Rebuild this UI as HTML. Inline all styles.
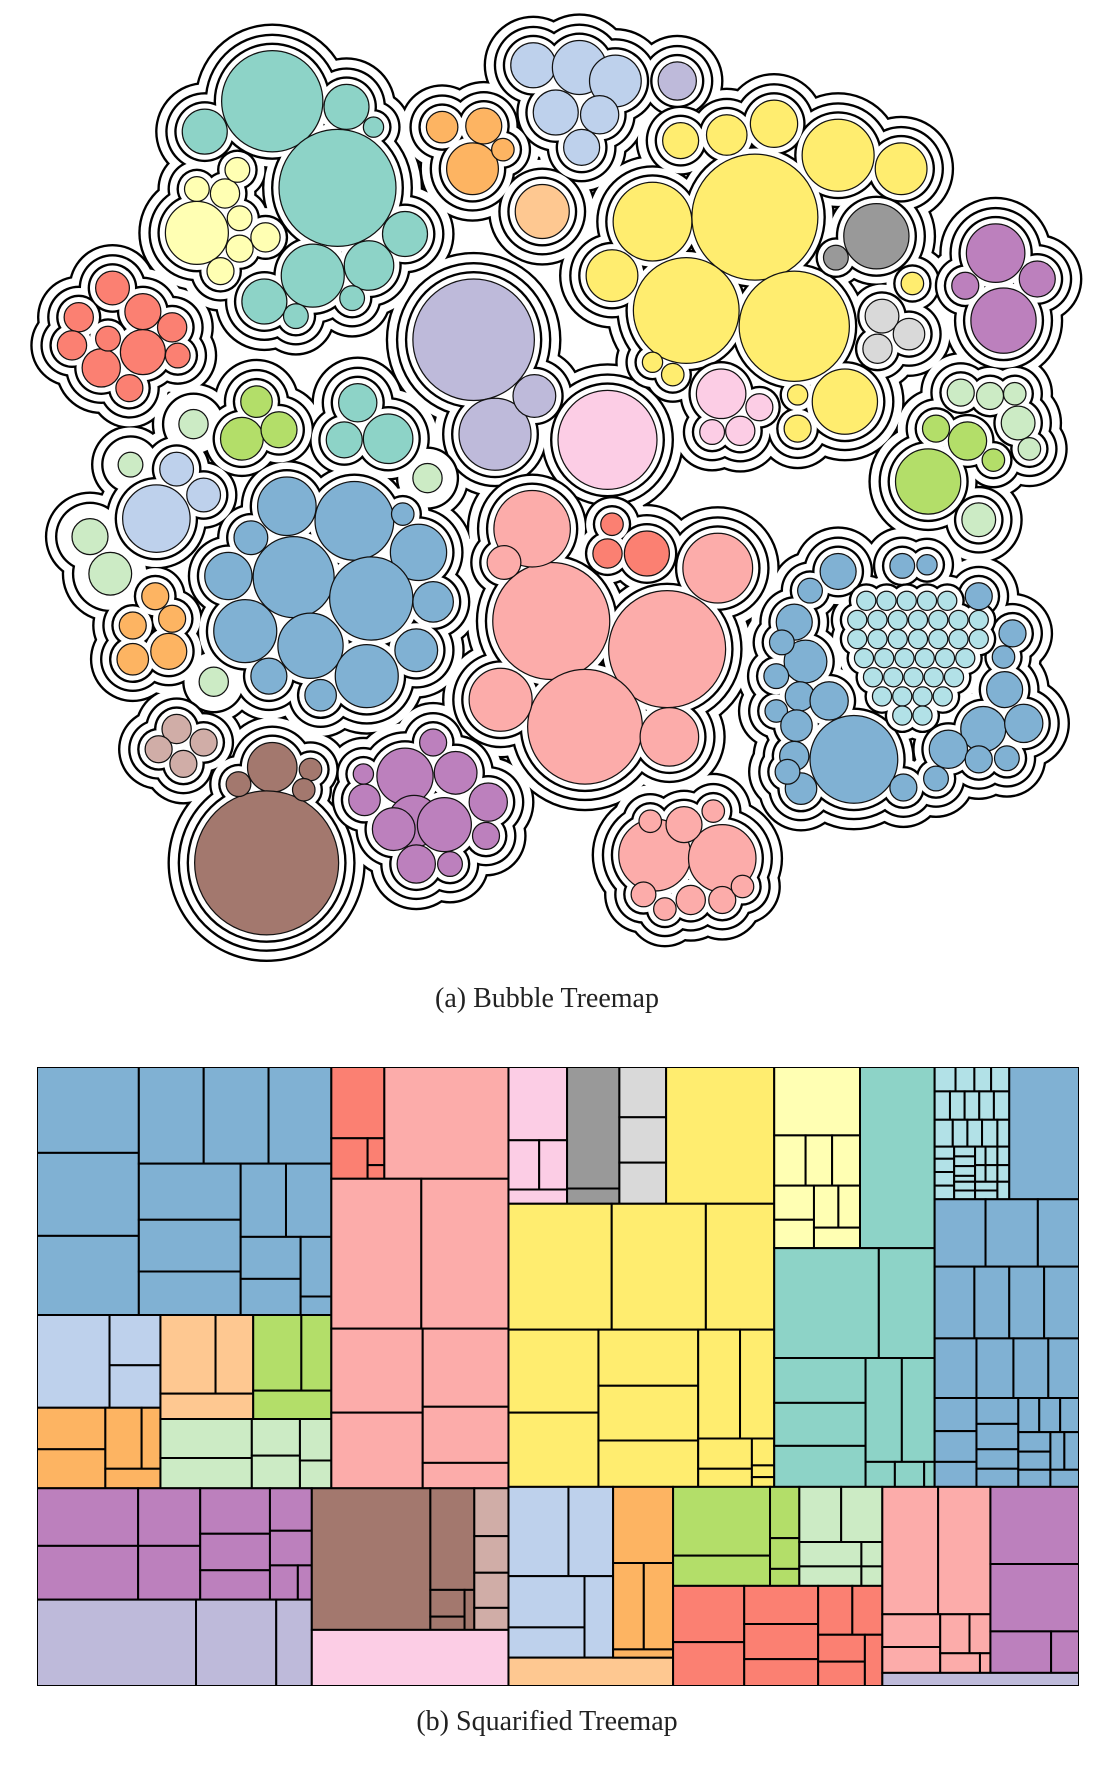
<!DOCTYPE html>
<html><head><meta charset="utf-8"><style>
html,body{margin:0;padding:0;background:#fff;}
body{width:1094px;height:1765px;position:relative;overflow:hidden;font-family:"Liberation Serif",serif;}
.cap{position:absolute;width:1094px;left:0;text-align:center;font-size:28px;color:#222;}
svg{position:absolute;left:0;top:0;}
</style></head><body>
<svg id="bubble" width="1094" height="980" viewBox="0 0 972.44 871.1"></svg>
<div class="cap" style="top:983px;">(a) Bubble Treemap</div>
<svg id="sq" style="left:37px;top:1067px;" width="1042" height="619" viewBox="53 137 1494 1268" preserveAspectRatio="none"></svg>
<div class="cap" style="top:1706px;">(b) Squarified Treemap</div>
<script>
const colors={B:'#80b1d3',LB:'#bed1ec',R:'#fb8072',PK:'#fcacaa',P:'#fccde5',G:'#999999',LGY:'#d9d9d9',Y:'#ffed6f',LY:'#ffffb3',T:'#8dd3c7',C:'#b2e1e7',O:'#fdb462',PE:'#fec891',GR:'#b3de69',LG:'#ccebc5',PU:'#bc80bd',LV:'#bebada',BR:'#a3786e',LBR:'#d0ada7'};
// bubble data: cx, cy, r, color, leaf group
const bubbles=[
[242,90,45,'T','T'],[300,167,52,'T','T'],[182,117,20,'T','T'],[308,95,20,'T','T'],[332,113,9,'T','T'],[278,245,28,'T','T'],[328,236,22,'T','T'],[360,208,20,'T','T'],[235,268,20,'T','T'],[313,265,11,'T','T'],[263,281,11,'T','T'],
[175,207,28,'LY','LY'],[200,172,13,'LY','LY'],[211,151,11,'LY','LY'],[175,168,11,'LY','LY'],[213,194,11,'LY','LY'],[236,211,13,'LY','LY'],[213,221,12,'LY','LY'],[196,241,12,'LY','LY'],
[100,256,15,'R','RL'],[127,277,16,'R','RL'],[153,291,13,'R','RL'],[70,282,13,'R','RL'],[64,307,13,'R','RL'],[127,313,20,'R','RL'],[90,327,17,'R','RL'],[115,345,12,'R','RL'],[158,316,11,'R','RL'],[96,301,11,'R','RL'],
[421,302,54,'LV','LV'],[440,386,32,'LV','LV'],[475,352,19,'LV','LV'],
[540,391,44,'P','PA'],
[474,58,20,'LB','LBT'],[515,60,24,'LB','LBT'],[547,72,23,'LB','LBT'],[494,100,20,'LB','LBT'],[533,102,17,'LB','LBT'],[517,131,16,'LB','LBT'],
[602,72,17,'LV','LVS'],
[393,113,14,'O','OT'],[430,112,16,'O','OT'],[420,150,23,'O','OT'],[447,133,10,'O','OT'],
[482,188,24,'PE','PE'],
[671,193,56,'Y','Y'],[610,276,47,'Y','Y'],[706,290,49,'Y','Y'],[580,197,35,'Y','Y'],[544,245,23,'Y','Y'],[646,120,18,'Y','Y'],[605,125,16,'Y','Y'],[688,110,21,'Y','Y'],[745,138,32,'Y','Y'],[801,150,23,'Y','Y'],[751,357,29,'Y','Y'],[580,322,9,'Y','Y'],[598,333,10,'Y','Y'],[709,351,9,'Y','Y'],[709,381,12,'Y','Y'],[811,252,10,'Y','Y'],
[779,210,29,'G','GG'],[743,229,11,'G','GG'],
[784,281,15,'LGY','LGR'],[808,297,14,'LGY','LGR'],[780,310,13,'LGY','LGR'],
[641,350,22,'P','PS'],[675,362,12,'P','PS'],[633,384,11,'P','PS'],[658,383,13,'P','PS'],
[885,225,26,'PU','PR'],[922,248,16,'PU','PR'],[858,254,12,'PU','PR'],[892,285,29,'PU','PR'],
[854,349,12,'LG','LGRt'],[880,352,12,'LG','LGRt'],[902,350,10,'LG','LGRt'],[905,376,15,'LG','LGRt'],[915,399,10,'LG','LGRt'],[870,462,15,'LG','LGRt'],
[825,428,29,'GR','GRR'],[860,392,17,'GR','GRR'],[832,381,12,'GR','GRR'],[883,409,10,'GR','GRR'],
[228,357,14,'GR','GL'],[215,390,19,'GR','GL'],[248,382,16,'GR','GL'],
[172,377,13,'LG',''],[116,413,11,'LG',''],[80,477,16,'LG',''],[98,510,19,'LG',''],[190,606,13,'LG',''],[380,425,13,'LG',''],
[157,417,15,'LB','LBL'],[139,461,30,'LB','LBL'],[181,440,15,'LB','LBL'],
[138,530,12,'O','OL'],[153,550,12,'O','OL'],[118,556,12,'O','OL'],[150,579,16,'O','OL'],[118,586,14,'O','OL'],
[318,358,17,'T','TS'],[345,390,22,'T','TS'],[306,391,16,'T','TS'],
[255,450,26,'B','BB'],[315,463,35,'B','BB'],[372,491,25,'B','BB'],[358,457,10,'B','BB'],[223,478,15,'B','BB'],[261,513,36,'B','BB'],[330,532,37,'B','BB'],[203,512,21,'B','BB'],[385,535,18,'B','BB'],[218,561,28,'B','BB'],[276,574,29,'B','BB'],[370,578,19,'B','BB'],[326,601,28,'B','BB'],[239,601,16,'B','BB'],[285,618,14,'B','BB'],
[490,552,52,'PK','PB'],[593,577,52,'PK','PB'],[520,646,51,'PK','PB'],[473,470,34,'PK','PB'],[638,505,31,'PK','PB'],[448,500,15,'PK','PB'],[445,622,28,'PK','PB'],[595,655,26,'PK','PB'],
[544,466,10,'R','RS'],[575,492,20,'R','RS'],[540,492,13,'R','RS'],
[759,675,39,'B','BR'],[706,553,16,'B','BR'],[716,588,19,'B','BR'],[745,508,16,'B','BR'],[720,525,11,'B','BR'],[695,571,11,'B','BR'],[690,601,11,'B','BR'],[711,619,13,'B','BR'],[737,623,17,'B','BR'],[690,632,10,'B','BR'],[708,645,14,'B','BR'],[706,672,13,'B','BR'],[712,701,14,'B','BR'],[802,503,11,'B','BR'],[824,502,9,'B','BR'],[870,530,12,'B','BR'],[900,563,12,'B','BR'],[892,584,10,'B','BR'],[893,613,16,'B','BR'],[874,648,20,'B','BR'],[910,643,17,'B','BR'],[843,666,17,'B','BR'],[870,675,12,'B','BR'],[895,674,11,'B','BR'],[832,692,11,'B','BR'],[803,700,12,'B','BR'],[700,686,11,'B','BR'],
[770,534,8.5,'C','C'],[788,534,8.5,'C','C'],[806,534,8.5,'C','C'],[824,534,8.5,'C','C'],[842,534,8.5,'C','C'],
[762,551,8.5,'C','C'],[780,551,8.5,'C','C'],[798,551,8.5,'C','C'],[816,551,8.5,'C','C'],[834,551,8.5,'C','C'],[852,551,8.5,'C','C'],[870,551,8.5,'C','C'],
[762,568,8.5,'C','C'],[780,568,8.5,'C','C'],[798,568,8.5,'C','C'],[816,568,8.5,'C','C'],[834,568,8.5,'C','C'],[852,568,8.5,'C','C'],[870,568,8.5,'C','C'],
[768,585,8.5,'C','C'],[786,585,8.5,'C','C'],[804,585,8.5,'C','C'],[822,585,8.5,'C','C'],[840,585,8.5,'C','C'],[858,585,8.5,'C','C'],
[776,602,8.5,'C','C'],[794,602,8.5,'C','C'],[812,602,8.5,'C','C'],[830,602,8.5,'C','C'],[848,602,8.5,'C','C'],
[784,619,8.5,'C','C'],[802,619,8.5,'C','C'],[820,619,8.5,'C','C'],[838,619,8.5,'C','C'],[802,636,8.5,'C','C'],[820,636,8.5,'C','C'],
[157,648,13,'LBR','LBR'],[141,666,12,'LBR','LBR'],[181,660,12,'LBR','LBR'],[163,679,12,'LBR','LBR'],
[242,682,22,'BR','BRN'],[237,767,64,'BR','BRN'],[212,697,11,'BR','BRN'],[276,684,10,'BR','BRN'],[270,702,10,'BR','BRN'],
[360,690,25,'PU','PUB'],[405,687,19,'PU','PUB'],[385,660,12,'PU','PUB'],[323,688,9,'PU','PUB'],[324,711,14,'PU','PUB'],[368,730,23,'PU','PUB'],[395,733,24,'PU','PUB'],[434,713,17,'PU','PUB'],[350,737,19,'PU','PUB'],[432,743,12,'PU','PUB'],[370,768,17,'PU','PUB'],[400,768,11,'PU','PUB'],
[582,760,32,'PK','PKB'],[642,763,30,'PK','PKB'],[608,733,16,'PK','PKB'],[634,721,10,'PK','PKB'],[578,730,10,'PK','PKB'],[572,795,11,'PK','PKB'],[614,800,13,'PK','PKB'],[591,808,10,'PK','PKB'],[642,800,12,'PK','PKB'],[660,788,10,'PK','PKB']
];
const midGroups={T:'M1',LY:'M1',LBT:'M2',OT:'M2',PE:'M2',LVS:'M2',Y:'M3',GG:'M3',LGR:'M3',PS:'M3',PR:'M4',GRR:'M4',LGRt:'M4',GL:'M5',LBL:'M5',OL:'M5',TS:'M5',BB:'M5','':'M5',PB:'M6',RS:'M6',BR:'M7',C:'M7',LBR:'M8',BRN:'M8',PUB:'M9',PKB:'M10',RL:'M12',LV:'M11',PA:'M11'};
const NS='http://www.w3.org/2000/svg';
const bsvg=document.getElementById('bubble');
function ring(list,off,name){
  const g=document.createElementNS(NS,'g');
  
  
  [[2.1,'#000'],[0,'#fff']].forEach(function(p){
    list.forEach(function(b){
      const c=document.createElementNS(NS,'circle');
      c.setAttribute('cx',b[0]);c.setAttribute('cy',b[1]);c.setAttribute('r',b[2]+off+p[0]);c.setAttribute('fill',p[1]);
      g.appendChild(c);
    });
  });
  bsvg.appendChild(g);
}
ring(bubbles,22,'root-contour');
const mids={};bubbles.forEach(b=>{const m=midGroups[b[4]];(mids[m]=mids[m]||[]).push(b);});
Object.keys(mids).forEach(m=>ring(mids[m],13,'group-contour'));
const leaves={};bubbles.forEach(b=>{if(b[4]){(leaves[b[4]]=leaves[b[4]]||[]).push(b);}});
Object.keys(leaves).forEach(l=>ring(leaves[l],5,'leaf-contour'));
bubbles.forEach(function(b){
  const c=document.createElementNS(NS,'circle');
  
  
  c.setAttribute('cx',b[0]);c.setAttribute('cy',b[1]);c.setAttribute('r',b[2]);
  c.setAttribute('fill',colors[b[3]]);c.setAttribute('stroke','#111');c.setAttribute('stroke-width','1.1');
  bsvg.appendChild(c);
});
// squarified cells: x0, y0, x1, y1, color
const cells=[
[53,137,199,313,'B'],[53,313,199,483,'B'],[53,483,199,645,'B'],[199,137,292,335,'B'],[292,137,385,335,'B'],[385,137,475,335,'B'],[199,335,345,450,'B'],[199,450,345,556,'B'],[199,556,345,645,'B'],[345,335,410,485,'B'],[410,335,475,485,'B'],[345,485,431,571,'B'],[345,571,431,645,'B'],[431,485,475,607,'B'],[431,607,475,645,'B'],
[53,645,157,835,'LB'],[157,645,230,748,'LB'],[157,748,230,835,'LB'],
[53,835,151,920,'O'],[53,920,151,1000,'O'],[151,835,203,960,'O'],[203,835,230,960,'O'],[151,960,230,1000,'O'],
[230,645,309,806,'PE'],[309,645,363,806,'PE'],[230,806,363,858,'PE'],
[363,645,432,800,'GR'],[432,645,475,800,'GR'],[363,800,475,858,'GR'],
[230,858,361,938,'LG'],[230,938,361,1000,'LG'],[361,858,430,933,'LG'],[361,933,430,1000,'LG'],[430,858,475,943,'LG'],[430,943,475,1000,'LG'],
[475,137,551,283,'R'],[475,283,527,366,'R'],[527,283,551,338,'R'],[527,338,551,366,'R'],[551,137,729,366,'PK'],
[475,366,604,673,'PK'],[604,366,729,673,'PK'],[475,673,606,845,'PK'],[606,673,729,833,'PK'],[475,845,606,1000,'PK'],[606,833,729,948,'PK'],[606,948,729,1000,'PK'],
[729,137,813,287,'P'],[729,287,773,388,'P'],[773,287,813,388,'P'],[729,388,813,417,'P'],
[813,137,888,386,'G'],[813,386,888,417,'G'],
[888,137,955,240,'LGY'],[888,240,955,333,'LGY'],[888,333,955,417,'LGY'],
[955,137,1110,417,'Y'],[729,417,877,675,'Y'],[877,417,1012,675,'Y'],[1012,417,1110,675,'Y'],[729,675,858,845,'Y'],[729,845,858,997,'Y'],[858,675,1001,790,'Y'],[858,790,1001,902,'Y'],[858,902,1001,997,'Y'],[1001,675,1061,898,'Y'],[1061,675,1110,898,'Y'],[1001,898,1078,960,'Y'],[1001,960,1078,997,'Y'],[1078,898,1110,953,'Y'],[1078,953,1110,977,'Y'],[1078,977,1110,997,'Y'],
[1110,137,1233,277,'LY'],[1110,277,1155,380,'LY'],[1155,277,1193,380,'LY'],[1193,277,1233,380,'LY'],[1110,380,1167,450,'LY'],[1110,450,1167,508,'LY'],[1167,380,1202,466,'LY'],[1202,380,1233,466,'LY'],[1167,466,1233,508,'LY'],
[1233,137,1340,508,'T'],[1110,508,1260,733,'T'],[1260,508,1340,733,'T'],[1110,733,1241,825,'T'],[1110,825,1241,913,'T'],[1110,913,1241,997,'T'],[1241,733,1293,946,'T'],[1293,733,1340,946,'T'],[1241,946,1283,997,'T'],[1283,946,1325,997,'T'],[1325,946,1340,997,'T'],
[1340,137,1370,187,'C'],[1370,137,1397,187,'C'],[1397,137,1421,187,'C'],[1421,137,1447,187,'C'],
[1340,187,1362,245,'C'],[1362,187,1383,245,'C'],[1383,187,1404,245,'C'],[1404,187,1425,245,'C'],[1425,187,1447,245,'C'],
[1340,245,1366,300,'C'],[1366,245,1387,300,'C'],[1387,245,1408,300,'C'],[1408,245,1430,300,'C'],[1430,245,1447,300,'C'],
[1340,300,1368,325,'C'],[1340,325,1368,352,'C'],[1340,352,1368,380,'C'],[1340,380,1368,408,'C'],
[1368,300,1398,320,'C'],[1368,320,1398,340,'C'],[1368,340,1398,360,'C'],[1368,360,1398,372,'C'],[1368,372,1398,390,'C'],[1368,390,1398,408,'C'],
[1398,300,1413,338,'C'],[1413,300,1430,338,'C'],[1430,300,1447,338,'C'],[1398,338,1413,372,'C'],[1413,338,1430,372,'C'],[1430,338,1447,372,'C'],[1398,372,1430,390,'C'],[1398,390,1430,408,'C'],[1430,372,1447,408,'C'],
[1447,137,1547,408,'B'],[1340,408,1413,546,'B'],[1413,408,1488,546,'B'],[1488,408,1547,546,'B'],
[1340,546,1397,693,'B'],[1397,546,1447,693,'B'],[1447,546,1497,693,'B'],[1497,546,1547,693,'B'],
[1340,693,1400,815,'B'],[1400,693,1453,815,'B'],[1453,693,1503,815,'B'],[1503,693,1547,815,'B'],
[1340,815,1400,883,'B'],[1340,883,1400,946,'B'],[1340,946,1400,997,'B'],[1400,815,1460,868,'B'],[1400,868,1460,920,'B'],[1400,920,1460,960,'B'],[1400,960,1460,997,'B'],[1460,815,1490,885,'B'],[1490,815,1520,885,'B'],[1520,815,1547,885,'B'],[1460,885,1506,925,'B'],[1460,925,1506,962,'B'],[1506,885,1526,962,'B'],[1526,885,1547,962,'B'],[1460,962,1506,997,'B'],[1506,962,1547,997,'B'],
[53,1000,198,1118,'PU'],[198,1000,287,1118,'PU'],[53,1118,198,1228,'PU'],[198,1118,287,1228,'PU'],[287,1000,387,1093,'PU'],[387,1000,447,1087,'PU'],[287,1093,387,1168,'PU'],[387,1087,447,1158,'PU'],[287,1168,387,1228,'PU'],[387,1158,427,1228,'PU'],[427,1158,447,1228,'PU'],
[53,1228,281,1405,'LV'],[281,1228,396,1405,'LV'],[396,1228,447,1405,'LV'],
[447,1000,617,1290,'BR'],[617,1000,680,1208,'BR'],[617,1208,666,1263,'BR'],[617,1263,666,1290,'BR'],[666,1208,680,1290,'BR'],
[680,1000,729,1098,'LBR'],[680,1098,729,1173,'LBR'],[680,1173,729,1245,'LBR'],[680,1245,729,1290,'LBR'],
[447,1290,729,1405,'P'],
[729,997,815,1180,'LB'],[815,997,879,1180,'LB'],[729,1180,838,1285,'LB'],[729,1285,838,1347,'LB'],[838,1180,879,1347,'LB'],
[729,1347,965,1405,'PE'],
[879,997,965,1153,'O'],[879,1153,923,1330,'O'],[923,1153,965,1330,'O'],[879,1330,965,1347,'O'],
[965,997,1104,1138,'GR'],[965,1138,1104,1200,'GR'],[1104,997,1146,1102,'GR'],[1104,1102,1146,1165,'GR'],[1104,1165,1146,1200,'GR'],
[1146,997,1206,1110,'LG'],[1206,997,1265,1110,'LG'],[1146,1110,1235,1160,'LG'],[1235,1110,1265,1160,'LG'],[1146,1160,1235,1200,'LG'],[1235,1160,1265,1200,'LG'],
[965,1200,1067,1315,'R'],[965,1315,1067,1405,'R'],[1067,1200,1173,1278,'R'],[1067,1278,1173,1350,'R'],[1067,1350,1173,1405,'R'],[1173,1200,1222,1300,'R'],[1222,1200,1265,1300,'R'],[1173,1300,1240,1355,'R'],[1173,1355,1240,1405,'R'],[1240,1300,1265,1405,'R'],
[1265,997,1345,1258,'PK'],[1345,997,1420,1258,'PK'],[1265,1258,1348,1325,'PK'],[1265,1325,1348,1378,'PK'],[1348,1258,1390,1338,'PK'],[1390,1258,1420,1338,'PK'],[1348,1338,1405,1378,'PK'],[1405,1338,1420,1378,'PK'],
[1420,997,1547,1155,'PU'],[1420,1155,1547,1293,'PU'],[1420,1293,1507,1378,'PU'],[1507,1293,1547,1378,'PU'],
[1265,1378,1547,1405,'LV']
];
const ssvg=document.getElementById('sq');
cells.forEach(function(c){
  const r=document.createElementNS(NS,'rect');
  
  
  r.setAttribute('x',c[0]);r.setAttribute('y',c[1]);r.setAttribute('width',c[2]-c[0]);r.setAttribute('height',c[3]-c[1]);
  r.setAttribute('fill',colors[c[4]]);r.setAttribute('stroke','#000');r.setAttribute('stroke-width','2');
  r.setAttribute('vector-effect','non-scaling-stroke');
  ssvg.appendChild(r);
});
const frame=document.createElementNS(NS,'rect');


frame.setAttribute('x',53);frame.setAttribute('y',137);frame.setAttribute('width',1494);frame.setAttribute('height',1268);
frame.setAttribute('fill','none');frame.setAttribute('stroke','#000');frame.setAttribute('stroke-width','1.5');frame.setAttribute('vector-effect','non-scaling-stroke');
ssvg.appendChild(frame);
</script>
</body></html>
